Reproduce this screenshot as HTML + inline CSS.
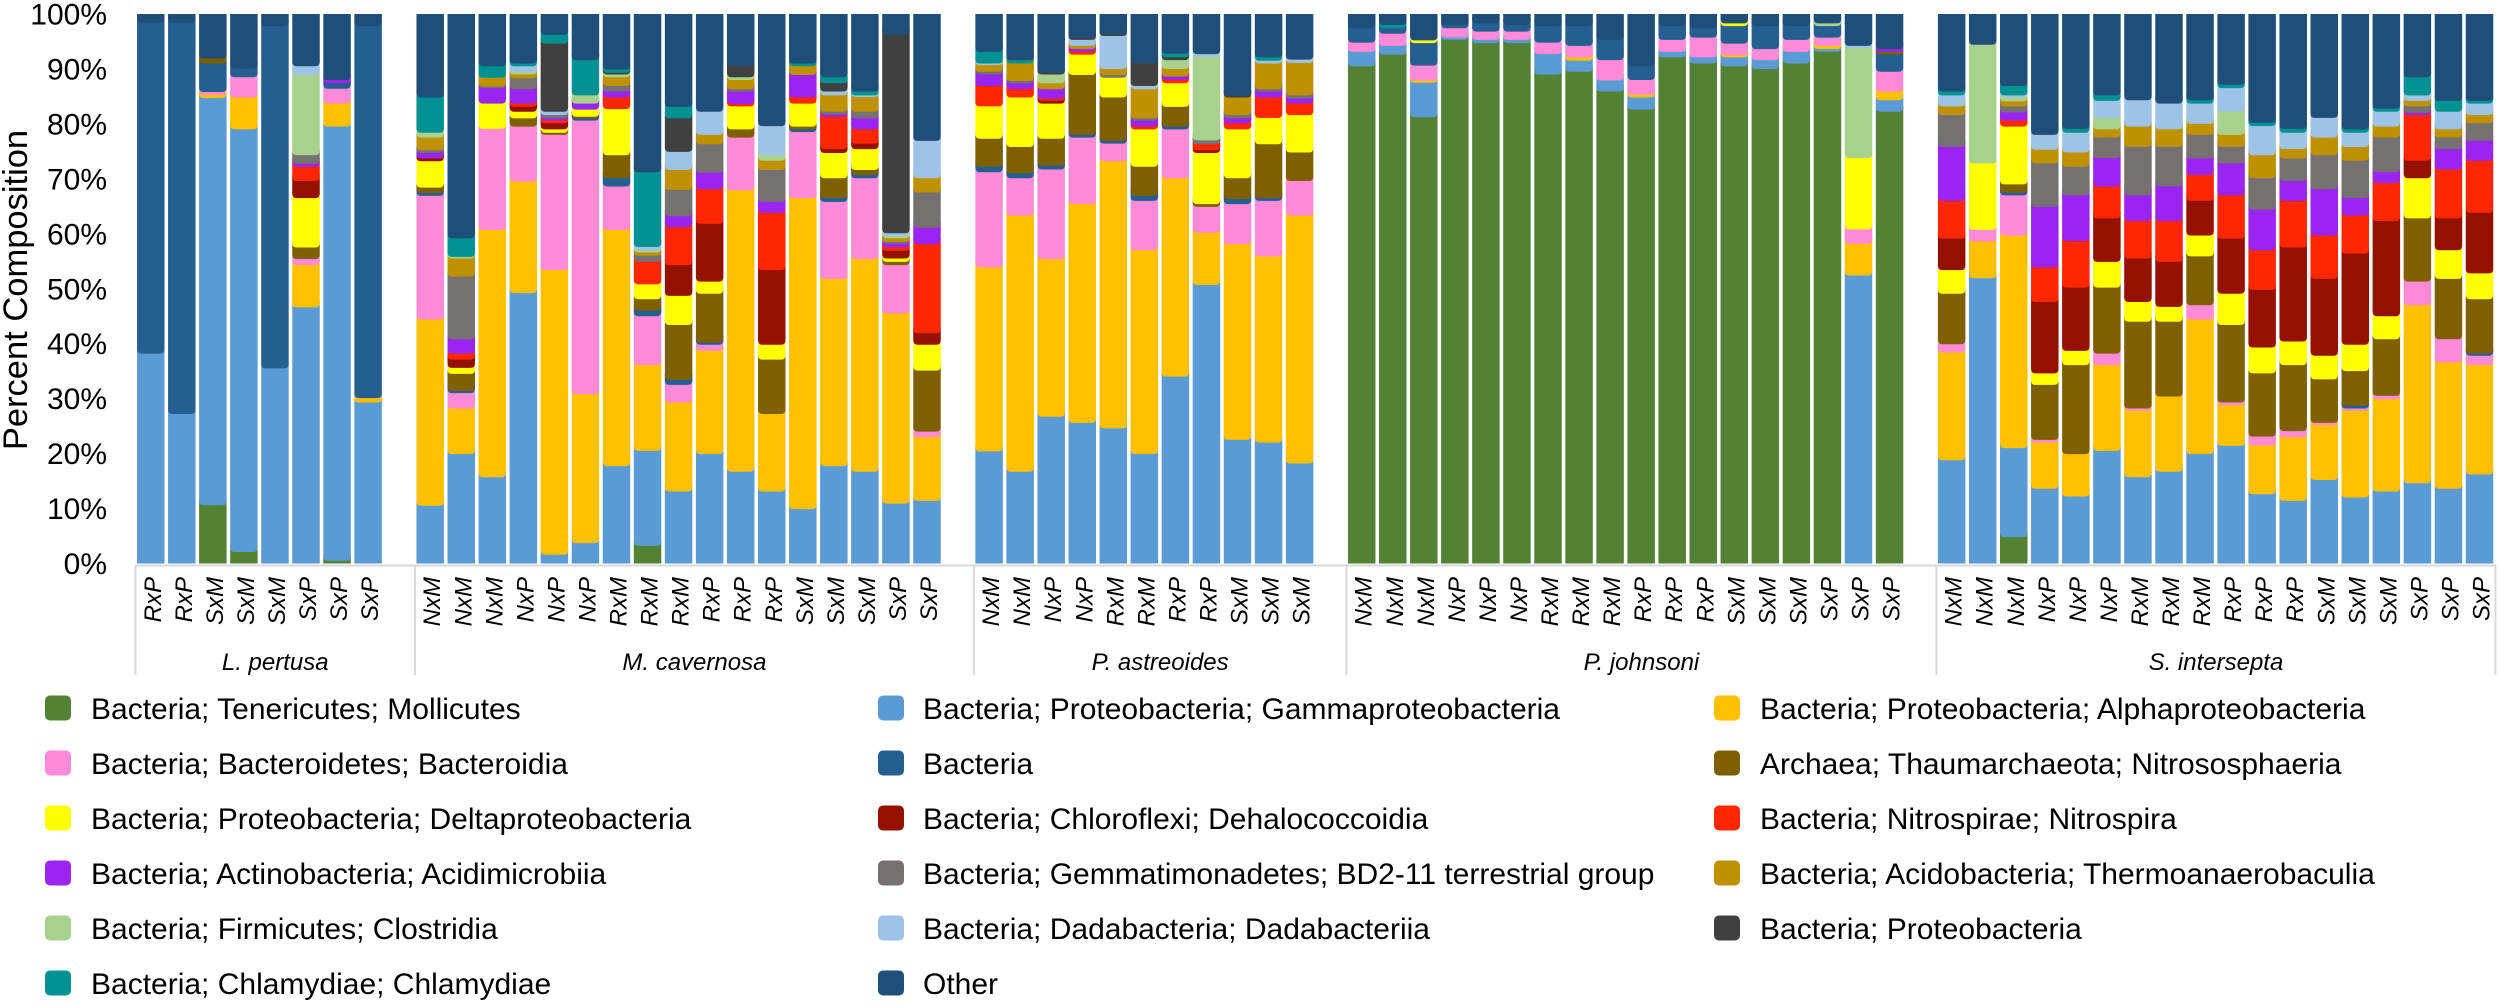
<!DOCTYPE html>
<html lang="en">
<head>
<meta charset="utf-8">
<title>Percent Composition by Species</title>
<style>
html,body{margin:0;padding:0;background:#fff;}
svg{display:block;font-family:"Liberation Sans",sans-serif;}
</style>
</head>
<body>
<svg id="chart" width="2500" height="1005" viewBox="0 0 2500 1005" xmlns="http://www.w3.org/2000/svg">
  <g id="bars"></g>
  <g id="yticks"></g>
  <text transform="translate(27,290) rotate(-90)" text-anchor="middle" font-size="34.5" fill="#000">Percent Composition</text>
  <g id="xaxis"></g>
  <g font-size="30" fill="#000">
    <g><rect x="45" y="695.5" width="26" height="25" rx="5" fill="#548235"/><text x="91" y="719">Bacteria; Tenericutes; Mollicutes</text></g>
    <g><rect x="878" y="695.5" width="26" height="25" rx="5" fill="#5B9BD5"/><text x="923" y="719">Bacteria; Proteobacteria; Gammaproteobacteria</text></g>
    <g><rect x="1714" y="695.5" width="26" height="25" rx="5" fill="#FFC000"/><text x="1760" y="719">Bacteria; Proteobacteria; Alphaproteobacteria</text></g>
    <g><rect x="45" y="750.5" width="26" height="25" rx="5" fill="#FF8AD8"/><text x="91" y="774">Bacteria; Bacteroidetes; Bacteroidia</text></g>
    <g><rect x="878" y="750.5" width="26" height="25" rx="5" fill="#255E91"/><text x="923" y="774">Bacteria</text></g>
    <g><rect x="1714" y="750.5" width="26" height="25" rx="5" fill="#7F6000"/><text x="1760" y="774">Archaea; Thaumarchaeota; Nitrososphaeria</text></g>
    <g><rect x="45" y="805.5" width="26" height="25" rx="5" fill="#FFFF00"/><text x="91" y="829">Bacteria; Proteobacteria; Deltaproteobacteria</text></g>
    <g><rect x="878" y="805.5" width="26" height="25" rx="5" fill="#941100"/><text x="923" y="829">Bacteria; Chloroflexi; Dehalococcoidia</text></g>
    <g><rect x="1714" y="805.5" width="26" height="25" rx="5" fill="#FF2600"/><text x="1760" y="829">Bacteria; Nitrospirae; Nitrospira</text></g>
    <g><rect x="45" y="860.5" width="26" height="25" rx="5" fill="#9A24F0"/><text x="91" y="884">Bacteria; Actinobacteria; Acidimicrobiia</text></g>
    <g><rect x="878" y="860.5" width="26" height="25" rx="5" fill="#767171"/><text x="923" y="884">Bacteria; Gemmatimonadetes; BD2-11 terrestrial group</text></g>
    <g><rect x="1714" y="860.5" width="26" height="25" rx="5" fill="#BF9000"/><text x="1760" y="884">Bacteria; Acidobacteria; Thermoanaerobaculia</text></g>
    <g><rect x="45" y="915.5" width="26" height="25" rx="5" fill="#A9D18E"/><text x="91" y="939">Bacteria; Firmicutes; Clostridia</text></g>
    <g><rect x="878" y="915.5" width="26" height="25" rx="5" fill="#9DC3E6"/><text x="923" y="939">Bacteria; Dadabacteria; Dadabacteriia</text></g>
    <g><rect x="1714" y="915.5" width="26" height="25" rx="5" fill="#404040"/><text x="1760" y="939">Bacteria; Proteobacteria</text></g>
    <g><rect x="45" y="970.5" width="26" height="25" rx="5" fill="#009193"/><text x="91" y="994">Bacteria; Chlamydiae; Chlamydiae</text></g>
    <g><rect x="878" y="970.5" width="26" height="25" rx="5" fill="#1F4E79"/><text x="923" y="994">Other</text></g>
  </g>
</svg>
<script>
const groupNames = ["L. pertusa", "M. cavernosa", "P. astreoides", "P. johnsoni", "S. intersepta"];
const groupCategories = [
  ["RxP","RxP","SxM","SxM","SxM","SxP","SxP","SxP"],
  ["NxM","NxM","NxM","NxP","NxP","NxP","RxM","RxM","RxM","RxP","RxP","RxP","SxM","SxM","SxM","SxP","SxP"],
  ["NxM","NxM","NxP","NxP","RxM","RxM","RxP","RxP","SxM","SxM","SxM"],
  ["NxM","NxM","NxM","NxP","NxP","NxP","RxM","RxM","RxM","RxP","RxP","RxP","SxM","SxM","SxM","SxP","SxP","SxP"],
  ["NxM","NxM","NxM","NxP","NxP","NxP","RxM","RxM","RxM","RxP","RxP","RxP","SxM","SxM","SxM","SxP","SxP","SxP"]
];
const yTickValues = [0,10,20,30,40,50,60,70,80,90,100];
const seriesKeys = ["tenericutes","gammaproteobacteria","alphaproteobacteria","bacteroidia","bacteria","nitrososphaeria","deltaproteobacteria","dehalococcoidia","nitrospira","acidimicrobiia","bd2-11","thermoanaerobaculia","clostridia","dadabacteriia","proteobacteria","chlamydiae","other"];
const seriesColors = ["#548235","#5B9BD5","#FFC000","#FF8AD8","#255E91","#7F6000","#FFFF00","#941100","#FF2600","#9A24F0","#767171","#BF9000","#A9D18E","#9DC3E6","#404040","#009193","#1F4E79"];

const tenericutes = [0,0,10.6,2.1,0,0,.5,0,
  0,0,0,0,0,0,0,3.2,0,0,0,0,0,0,0,0,0,
  0,0,0,0,0,0,0,0,0,0,0,
  90.5,92.6,81.2,95.3,94.7,94.7,89,89.5,85.9,82.6,92.1,91,90.5,90,91,93.1,0,82.2,
  0,0,4.8,0,0,0,0,0,0,0,0,0,0,0,0,0,0,0];
const gammaproteobacteria = [38.2,27.2,74.1,76.9,35.5,46.6,79,29.3,
  10.5,19.9,15.7,49.2,1.6,3.7,17.7,17.3,13.1,19.9,16.7,13.1,9.9,17.7,16.7,10.9,11.4,
  20.4,16.7,26.7,25.6,24.6,19.9,34,50.7,22.5,22,18.2,
  2.6,1.6,6.3,.4,.6,.6,3.7,2,2,2.2,1,1.1,1.6,1.6,2.1,.5,52.4,2.1,
  18.8,51.9,16.2,13.6,12.2,20.5,15.7,16.7,19.9,21.4,12.6,11.4,15.2,12,13.1,14.6,13.6,16.2];
const alphaproteobacteria = [0,0,.6,5.8,0,7.7,4.2,.8,
  33.9,8.3,45,20.3,51.8,27.1,43,15.6,16.2,18.8,51.2,14.1,56.6,34.1,38.7,34.6,11.6,
  33.5,46.6,28.7,39.8,48.6,37.1,36.1,9.5,35.6,33.9,45.1,
  0,0,.4,0,0,0,0,.6,0,.5,0,0,.4,0,0,.6,5.8,1.6,
  19.6,6.7,38.7,8.4,7.7,15.6,12.1,13.7,24.5,7.4,8.9,11.6,10,15.8,16.8,32.4,23,19.9];
const bacteroidia = [0,0,.5,3.7,0,1.1,2.7,0,
  22.5,2.8,18.4,10,24.6,49.8,7.9,8.9,3.2,1.1,9.6,0,12,14,14.7,8.8,1,
  17.3,6.8,16.3,12.1,3.2,9,8.9,4.7,7.3,10.1,6.3,
  1.7,2.2,2.7,1.7,1.5,1.5,2.1,2.1,3.7,2.7,2.2,3.6,2.1,2,2.2,1.5,2.6,3.6,
  1.5,2.1,7.3,.5,0,2.1,.4,0,2.6,.5,1.6,1.1,.4,.4,.6,4.3,4.2,1.7];
const bacteria = [60.2,71.2,5.2,1.6,62.3,0,1,67.7,
  .5,.4,0,0,0,.4,1.5,1,.9,.4,0,0,.5,.7,.6,0,0,
  1,.9,.7,.5,.5,.9,.5,0,.9,.5,0,
  2.6,1,4.1,.6,1.5,1.2,3,3.6,3.7,2.5,2.5,1.7,3.2,4.2,2.5,2.1,0,3.1,
  0,0,.5,0,0,0,0,0,0,0,0,0,0,.5,0,0,0,.4];
const nitrososphaeria = [0,0,.9,0,0,2.1,0,0,
  1,3.1,0,1.5,.4,.3,4.2,2.1,10,8.9,1.5,9.9,.5,3.6,.9,.6,11.1,
  5.1,4.8,4.9,10.9,7.9,5.3,3.6,.5,3.8,9.8,5.2,
  0,0,0,0,0,0,0,0,0,0,0,0,0,0,0,0,0,.5,
  9.2,0,1.5,10,16.2,12,15.8,13.6,8.9,14.1,11.5,12,7.9,6.3,10.3,11.5,11,9.9];
const deltaproteobacteria = [0,0,0,0,0,9,0,0,
  4.8,1.1,4.6,1.2,.6,1.3,8.4,2.7,5.3,2.2,4.2,2.7,4.2,4.6,3.8,.6,4.7,
  5.9,9,6.4,3.7,3.6,6.8,4.3,9.3,8.9,4.8,6.8,
  0,0,.5,0,0,0,0,0,0,0,0,0,.5,0,0,0,13,0,
  4.3,12.1,10.5,2.1,2.6,4.7,3.6,2.7,3.8,5.7,4.7,4.3,4.3,4.8,4.2,7.3,5.2,4.7];
const dehalococcoidia = [0,0,0,0,0,3.1,0,0,
  .5,1.5,0,.9,1.1,0,0,0,5.6,10.5,0,13.6,0,.7,1,1.4,2.1,
  0,0,.5,0,0,0,0,.5,0,0,0,
  0,0,0,0,0,0,0,0,0,0,0,0,0,0,0,0,0,0,
  5.7,0,0,13,11.5,7.9,7.9,8.2,6.3,10,10.5,17.1,14,16.6,17.3,3.2,5.8,11];
const nitrospira = [0,0,0,0,0,2.6,0,0,
  0,1.1,0,.6,.5,0,2.1,4.1,6.9,6.3,.4,10.4,1.1,5.9,2.6,.6,16.2,
  3.7,1.5,.4,.5,0,.5,.6,1.1,1.1,3.7,2.1,
  0,0,0,0,0,0,0,0,0,0,0,0,0,0,0,0,0,0,
  6.9,0,1.1,6.3,8.5,5.8,6.8,7.4,4.7,7.9,7.2,8.5,7.9,6.9,6.9,8.3,8.9,9.5];
const acidimicrobiia = [0,0,0,0,0,.5,.6,0,
  1,2.6,2.8,2.6,.4,1.1,1.1,0,2,3,2.3,2,4.1,.4,2,.7,3,
  2.1,1.1,1.7,.5,0,1.1,.6,0,.9,1.1,.9,
  0,0,0,0,0,0,0,0,0,0,0,0,0,0,0,0,0,.5,
  9.8,0,1.5,11,8.3,5.2,4.7,6.3,3,5.8,7.4,3.6,8.4,3.2,2,.4,3.7,3.6];
const bd211 = [0,0,0,0,0,1.6,0,0,
  .5,11.4,.3,2,.6,0,1,1.1,4.8,5.2,.4,5.8,0,.5,1.2,.3,6.4,
  .5,.4,0,0,.5,.4,0,.7,.6,.4,.6,
  0,0,0,0,0,0,0,0,0,0,0,0,0,0,0,0,0,0,
  5.8,0,1.1,7.9,5.2,3.7,8.8,7.2,4.3,3,5.7,4.1,6.2,6.8,6.3,1.2,2.1,3.2];
const thermoanaerobaculia = [0,0,0,0,0,0,0,0,
  2.3,3.3,1.6,.7,0,0,1.6,.6,3.6,1.7,1.7,1.7,1.6,3,2.7,.7,2.6,
  1.2,3.2,1.1,.6,1.1,5.3,1.4,0,3.2,4.7,5.9,
  0,0,0,0,0,0,0,0,0,0,0,0,0,0,0,0,0,0,
  1.6,0,.9,2.5,2.6,1.5,3.7,3.2,2,2.2,4.2,1.7,3.2,2.5,2,1,1.5,1.5];
const clostridia = [0,0,0,0,0,14.6,0,0,
  .9,.3,0,.5,0,1.5,.5,.4,0,0,.5,1,0,0,0,.4,0,
  0,0,1.6,0,0,0,1.6,15.2,0,0,0,
  0,0,0,0,0,0,0,0,0,0,0,0,0,0,0,.5,20,0,
  0,21.6,.7,0,0,2.1,0,0,0,4.2,0,0,0,0,0,0,0,0];
const dadabacteriia = [0,0,0,0,0,1.6,0,0,
  0,0,0,1,.6,0,0,.6,3.3,4.2,0,5.3,0,.7,.3,.5,6.8,
  .3,0,0,1.1,6,.6,0,.5,0,.5,.6,
  0,0,0,0,0,0,0,0,0,0,0,0,0,0,0,0,.4,0,
  2,0,.4,2.7,3.6,3.1,4.8,4.7,3.7,4.3,5.3,3,3.6,2.6,2.7,1,3.2,2.1];
const proteobacteria = [0,0,0,0,0,0,0,0,
  0,0,0,0,12.4,0,.3,0,6.1,0,2,0,0,1.5,0,36.1,0,
  0,0,.3,.3,.3,4.1,.5,0,.3,0,0,
  0,0,0,0,0,0,0,0,0,0,0,0,0,0,0,0,0,0,
  0,0,0,0,0,0,0,0,0,0,0,0,0,0,0,0,0,0];
const chlamydiae = [0,0,0,0,0,0,0,0,
  6.4,3.4,2.1,.5,1.6,6.4,.6,13.6,2.1,0,0,0,.5,1.1,.7,0,0,
  2.1,.6,0,0,0,0,.7,0,0,.6,0,
  0,.6,0,0,0,0,0,0,0,0,0,0,0,0,0,0,0,0,
  .7,0,1.7,0,.7,1,0,0,.6,.6,.6,.7,0,.6,.6,3.3,2,.5];
const other = [1.6,1.6,8.1,9.9,2.2,9.5,12,2.2,
  15.2,40.8,9.5,9,3.8,8.4,10.1,28.8,16.9,17.8,9.5,20.4,9,11.5,14.1,3.8,23.1,
  6.9,8.4,10.7,4.4,3.7,9,7.2,7.3,14.9,7.9,8.3,
  2.6,2,4.8,2,1.7,2,2.2,2.2,4.7,9.5,2.2,2.6,1.7,2.2,2.2,1.7,5.8,6.4,
  14.1,5.6,13.1,22,20.9,14.8,15.7,16.3,15.7,12.9,19.8,20.9,18.9,21,17.2,11.5,15.8,15.8];

const seriesValues = [tenericutes,gammaproteobacteria,alphaproteobacteria,bacteroidia,bacteria,nitrososphaeria,deltaproteobacteria,dehalococcoidia,nitrospira,acidimicrobiia,bd211,thermoanaerobaculia,clostridia,dadabacteriia,proteobacteria,chlamydiae,other];

const SVGNS = "http://www.w3.org/2000/svg";
const yZero = 563.5, yFull = 14, barWidth = 27.5, slotStep = 31.05, slotOrigin = 137, cornerRadius = 4.5;

function yScale(pct){ return yZero - (yZero - yFull) * pct / 100; }
function slotX(slot){ return slotOrigin + slotStep * slot; }

const barsLayer = document.getElementById("bars");
const ticksLayer = document.getElementById("yticks");
const xLayer = document.getElementById("xaxis");

yTickValues.forEach(function(v){
  const t = document.createElementNS(SVGNS, "text");
  
  
  t.setAttribute("x", 107);
  t.setAttribute("y", yScale(v) + 10.5);
  t.setAttribute("text-anchor", "end");
  t.setAttribute("font-size", "30");
  t.setAttribute("fill", "#000");
  t.textContent = v + "%";
  ticksLayer.appendChild(t);
});

function segmentPath(x, top, bottom, w, r){
  if (r <= 0) return "M" + x + " " + top + "H" + (x + w) + "V" + bottom + "H" + x + "Z";
  return "M" + x + " " + top + "H" + (x + w) + "V" + (bottom - r) +
    "Q" + (x + w) + " " + bottom + " " + (x + w - r) + " " + bottom +
    "H" + (x + r) + "Q" + x + " " + bottom + " " + x + " " + (bottom - r) + "Z";
}

function drawAxisLine(x1, y1, x2, y2, name){
  const l = document.createElementNS(SVGNS, "line");
  
  
  l.setAttribute("x1", x1);
  l.setAttribute("y1", y1);
  l.setAttribute("x2", x2);
  l.setAttribute("y2", y2);
  l.setAttribute("stroke", "#d9d9d9");
  l.setAttribute("stroke-width", "2");
  xLayer.appendChild(l);
}

let barIndex = 0, slot = 0;
const dividerXs = [];
groupCategories.forEach(function(cats, gi){
  dividerXs.push(slotX(slot) - 1.5);
  cats.forEach(function(cat){
    const x = slotX(slot);
    let total = 0;
    seriesValues.forEach(function(s){ total += s[barIndex]; });
    let cum = 0;
    seriesValues.forEach(function(s, si){
      const v = s[barIndex];
      if (v <= 0) return;
      const bottom = yScale(cum / total * 100);
      cum += v;
      const top = Math.max(yFull, yScale(cum / total * 100) - 6);
      const p = document.createElementNS(SVGNS, "path");
      
      
      p.setAttribute("data-series", seriesKeys[si]);
      p.setAttribute("d", segmentPath(x, top, bottom, barWidth, bottom >= yZero - 0.01 ? 0 : cornerRadius));
      p.setAttribute("fill", seriesColors[si]);
      barsLayer.appendChild(p);
    });
    const t = document.createElementNS(SVGNS, "text");
    
    
    t.setAttribute("transform", "translate(" + (x + barWidth / 2 + 10) + ",577) rotate(-90)");
    t.setAttribute("text-anchor", "end");
    t.setAttribute("font-size", "24");
    t.setAttribute("font-style", "italic");
    t.setAttribute("fill", "#000");
    t.textContent = cat;
    xLayer.appendChild(t);
    slot += 1;
    barIndex += 1;
  });
  slot += 1;
});
dividerXs.push(2495.5);

drawAxisLine(135, 565.5, 2496, 565.5, "x-axis-line");
dividerXs.forEach(function(dx){
  drawAxisLine(dx, 565, dx, 675, "group-divider");
});
groupNames.forEach(function(name, gi){
  const t = document.createElementNS(SVGNS, "text");
  
  
  t.setAttribute("x", (dividerXs[gi] + dividerXs[gi + 1]) / 2);
  t.setAttribute("y", 670);
  t.setAttribute("text-anchor", "middle");
  t.setAttribute("font-size", "24");
  t.setAttribute("font-style", "italic");
  t.setAttribute("fill", "#000");
  t.textContent = name;
  xLayer.appendChild(t);
});
</script>
</body>
</html>
